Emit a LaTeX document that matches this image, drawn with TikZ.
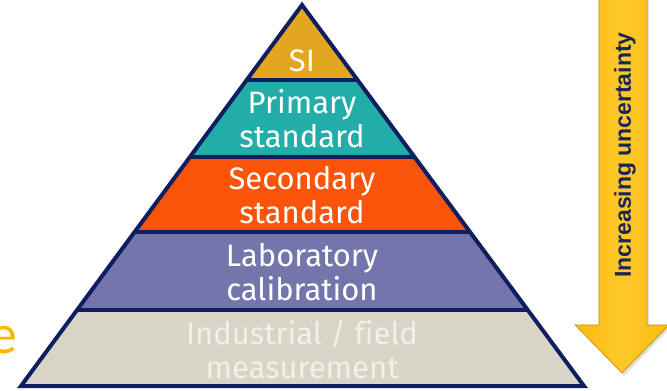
\documentclass[tikz,border=0pt]{standalone}
\usepackage{fontspec}
\setmainfont{Fira Sans}[Ligatures=NoCommon]
\newfontfamily\arrowfont{Liberation Sans}
\newfontfamily\headfont{Carlito}
\definecolor{outline}{HTML}{0F1E5E}
\definecolor{siband}{HTML}{E2A61F}
\definecolor{primband}{HTML}{22ADA8}
\definecolor{secband}{HTML}{F9540A}
\definecolor{labband}{HTML}{7475AB}
\definecolor{indband}{HTML}{D8D5C7}
\definecolor{indtext}{HTML}{F1F0EB}
\definecolor{argold}{HTML}{E3A100}
\definecolor{armid}{HTML}{F7B90A}
\definecolor{arlight}{HTML}{FFC82A}
\definecolor{aredge}{HTML}{C28A00}
\definecolor{navytext}{HTML}{1B2557}
\definecolor{titlegold}{HTML}{FFB400}
% gold bar, darker at both sides
\pgfdeclarehorizontalshading{goldbar}{100bp}{color(0bp)=(argold); color(20bp)=(armid); color(50bp)=(arlight); color(80bp)=(armid); color(100bp)=(argold)}
\begin{document}
\begin{tikzpicture}[x=1pt,y=-1pt,
  divider/.style={draw=outline, line width=4pt, line join=miter},
  tier/.style={text=white, align=center, font=\fontsize{31}{34}\selectfont, inner sep=0pt},
  arrowlabel/.style={rotate=90, text=navytext, font=\arrowfont\bfseries\fontsize{23}{27}\selectfont},
]
\clip (0,0) rectangle (667,391);

% pyramid corners and band edges
\coordinate (apex) at (302,5);
\coordinate (bl) at (21,386);
\coordinate (br) at (584,386);
\coordinate (l1) at (246.7,80);  \coordinate (r1) at (357.5,80);
\coordinate (l2) at (189.9,157); \coordinate (r2) at (414.5,157);
\coordinate (l3) at (134.6,232); \coordinate (r3) at (470.0,232);
\coordinate (l4) at (77.1,310);  \coordinate (r4) at (527.7,310);

% band fills
\fill[siband]   (apex) -- (r1) -- (l1) -- cycle;
\fill[primband] (l1) -- (r1) -- (r2) -- (l2) -- cycle;
\fill[secband]  (l2) -- (r2) -- (r3) -- (l3) -- cycle;
\fill[labband]  (l3) -- (r3) -- (r4) -- (l4) -- cycle;
\fill[indband]  (l4) -- (r4) -- (br) -- (bl) -- cycle;

% dividers and outline
\draw[divider] (l1) -- (r1);
\draw[divider] (l2) -- (r2);
\draw[divider] (l3) -- (r3);
\draw[divider] (l4) -- (r4);
\draw[divider] (apex) -- (br) -- (bl) -- cycle;

% tier labels
\node[tier] (si)   at (302,61)  {SI};
\node[tier] (prim) at (302,119) {Primary\\standard};
\node[tier] (sec)  at (302,195) {Secondary\\standard};
\node[tier] (lab)  at (302,272) {Laboratory\\calibration};
\node[tier, text=indtext] (ind) at (302,349) {Industrial / field\\measurement};

% uncertainty arrow: faint shadow, then the shaded body
\fill[black, opacity=0.12]
  (601,-10) -- (649,-10) -- (649,327) -- (671,327) -- (624,376)
  -- (577,327) -- (601,327) -- cycle;
\shade[shading=goldbar, draw=aredge, line width=0.6pt, line join=miter]
  (599,-10) -- (647,-10) -- (647,325) -- (669,325) -- (622,373)
  -- (575,325) -- (599,325) -- cycle;
\node[arrowlabel] (unc) at (625,155) {Increasing uncertainty};

% trailing letter of the heading
\node[font=\headfont\fontsize{56}{60}\selectfont, text=titlegold,
      anchor=base west, inner sep=0pt] (tail) at (-11,353) {e};
\end{tikzpicture}
\end{document}
